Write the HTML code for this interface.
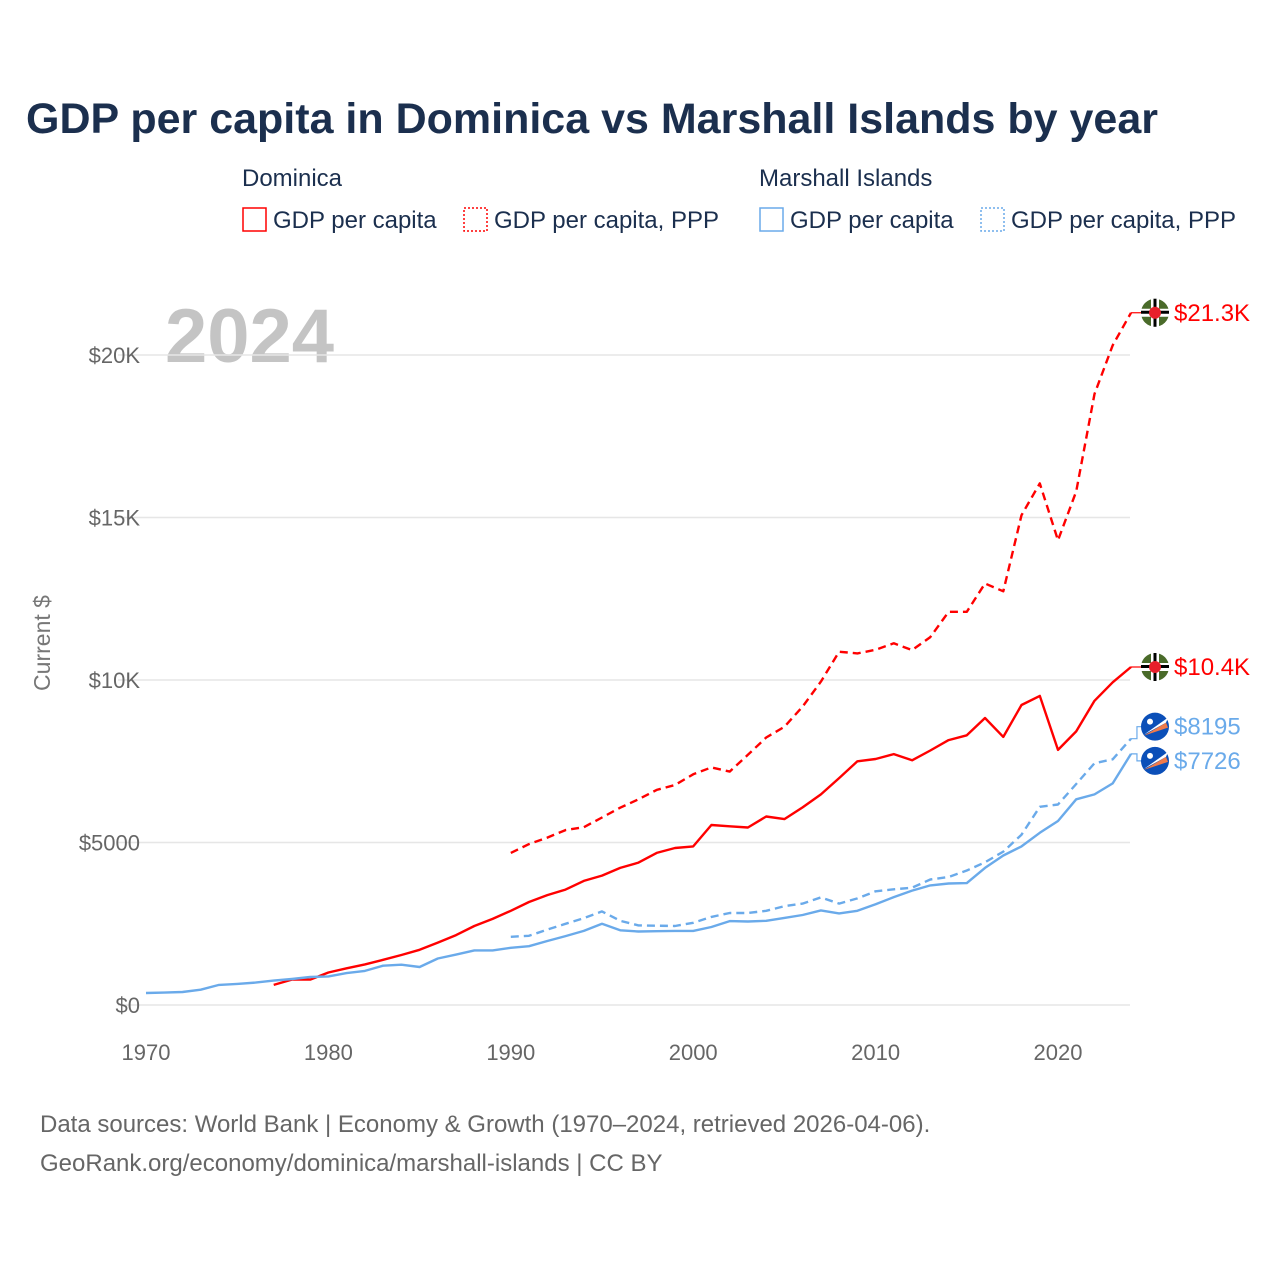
<!DOCTYPE html>
<html><head><meta charset="utf-8"><style>
body{margin:0;background:#fff;font-family:"Liberation Sans",sans-serif;}
svg text{font-family:"Liberation Sans",sans-serif;}
</style></head><body>
<svg id="c" width="1280" height="1280" viewBox="0 0 1280 1280">
<text x="26" y="133" font-size="43" font-weight="bold" fill="#1b2f4e">GDP per capita in Dominica vs Marshall Islands by year</text>
<g>
<text x="242" y="186" font-size="24" fill="#1b2f4e">Dominica</text>
<rect x="243" y="208" width="23" height="23" fill="none" stroke="#ff0000" stroke-width="1.5"/>
<text x="273" y="228" font-size="24" fill="#1b2f4e">GDP per capita</text>
<rect x="464" y="208" width="23" height="23" fill="none" stroke="#ff0000" stroke-width="1.5" stroke-dasharray="2,2"/>
<text x="494" y="228" font-size="24" fill="#1b2f4e">GDP per capita, PPP</text>
<text x="759" y="186" font-size="24" fill="#1b2f4e">Marshall Islands</text>
<rect x="760" y="208" width="23" height="23" fill="none" stroke="#6aaaea" stroke-width="1.5"/>
<text x="790" y="228" font-size="24" fill="#1b2f4e">GDP per capita</text>
<rect x="981" y="208" width="23" height="23" fill="none" stroke="#6aaaea" stroke-width="1.5" stroke-dasharray="2,2"/>
<text x="1011" y="228" font-size="24" fill="#1b2f4e">GDP per capita, PPP</text>
</g>
<text x="165" y="362" font-size="76" font-weight="bold" fill="#c4c4c4">2024</text>
<text transform="translate(50,643) rotate(-90)" text-anchor="middle" font-size="23" fill="#777">Current $</text>
<g id="grid"></g><g id="lines"></g><g id="labels"></g>
<text x="40" y="1132" font-size="24" fill="#666">Data sources: World Bank | Economy &amp; Growth (1970–2024, retrieved 2026-04-06).</text>
<text x="40" y="1171" font-size="24" fill="#666">GeoRank.org/economy/dominica/marshall-islands | CC BY</text>
</svg>
<script>
const yTicks=[0,5000,10000,15000,20000];
const yTickLabels=["$0","$5000","$10K","$15K","$20K"];
const xTicks=[1970,1980,1990,2000,2010,2020];
const domGdpStart=1977;
const domGdp=[620,780,780,1000,1130,1250,1390,1540,1700,1920,2150,2430,2650,2900,3170,3380,3550,3820,3980,4220,4380,4680,4830,4880,5540,5500,5460,5800,5720,6080,6480,6980,7500,7570,7720,7530,7830,8150,8300,8830,8250,9230,9510,7850,8420,9360,9930,10400];
const domPppStart=1990;
const domPpp=[4680,4950,5150,5380,5470,5770,6070,6330,6620,6770,7100,7310,7180,7700,8230,8560,9180,9950,10870,10820,10930,11130,10920,11320,12100,12100,12970,12730,15070,16050,14300,15800,18800,20300,21300];
const mhlGdpStart=1970;
const mhlGdp=[370,380,400,470,620,650,690,750,800,860,880,980,1050,1210,1240,1170,1430,1550,1680,1680,1760,1810,1970,2120,2280,2500,2300,2260,2270,2280,2280,2400,2580,2570,2590,2680,2770,2910,2820,2900,3100,3320,3520,3680,3740,3750,4220,4600,4880,5300,5660,6330,6480,6820,7726];
const mhlPppStart=1990;
const mhlPpp=[2100,2130,2320,2500,2670,2880,2590,2450,2440,2430,2530,2710,2830,2830,2900,3040,3120,3310,3120,3280,3500,3560,3610,3860,3940,4140,4390,4720,5240,6100,6170,6800,7440,7560,8195];
const endLabels=["$21.3K","$10.4K","$8195","$7726"];

const NS="http://www.w3.org/2000/svg";
const X=yr=>146+(yr-1970)*(1058-146)/50;
const Y=v=>1005-v*650/20000;
function mk(t,a,p){const e=document.createElementNS(NS,t);for(const k in a)e.setAttribute(k,a[k]);p.appendChild(e);return e;}
const grid=document.getElementById('grid'),lines=document.getElementById('lines'),labels=document.getElementById('labels');
yTicks.forEach((v,i)=>{
 const l=mk('line',{x1:118,x2:1130,y1:Y(v),y2:Y(v),stroke:'#e6e6e6','stroke-width':1.5},grid);
 
 
 const t=mk('text',{x:140,y:Y(v)+8,'text-anchor':'end','font-size':22,fill:'#666'},grid);
 t.textContent=yTickLabels[i];
 
 
});
xTicks.forEach(yr=>{
 const t=mk('text',{x:X(yr),y:1060,'text-anchor':'middle','font-size':22,fill:'#666'},grid);
 t.textContent=yr;
 
 
});
function series(start,vals,color,dash,name){
 const pts=vals.map((v,i)=>X(start+i).toFixed(1)+','+Y(v).toFixed(1)).join(' ');
 const p=mk('polyline',{points:pts,fill:'none',stroke:color,'stroke-width':2.4,'stroke-linejoin':'round'},lines);
 if(dash)p.setAttribute('stroke-dasharray','8,5');
 
 
}
series(domPppStart,domPpp,'#ff0000',true,'line-dominica-ppp');
series(domGdpStart,domGdp,'#ff0000',false,'line-dominica-gdp');
series(mhlPppStart,mhlPpp,'#6aaaea',true,'line-marshall-ppp');
series(mhlGdpStart,mhlGdp,'#6aaaea',false,'line-marshall-gdp');
const ends=[[domPpp,'#ff0000','dm',0],[domGdp,'#ff0000','dm',0],[mhlPpp,'#6aaaea','mh',-12],[mhlGdp,'#6aaaea','mh',7]];
ends.forEach((e,i)=>{
 const v=e[0][e[0].length-1];const y=Y(v);const ly=y+e[3];
 const c=mk('polyline',{points:`${X(2024)},${y} ${X(2024)+6},${y} ${X(2024)+6},${ly} 1142,${ly}`,fill:'none',stroke:e[1],'stroke-width':1.2},labels);
 
 
 const g=mk('g',{},labels);
 
 
 if(e[2]==='dm'){
  mk('circle',{cx:1155,cy:ly,r:14,fill:'#4a6b2a'},g);
  mk('rect',{x:1141,y:ly-4,width:28,height:8,fill:'#fff'},g);
  mk('rect',{x:1141,y:ly-2,width:28,height:3,fill:'#000'},g);
  mk('rect',{x:1151,y:ly-14,width:8,height:28,fill:'#fff'},g);
  mk('rect',{x:1153.5,y:ly-14,width:3,height:28,fill:'#000'},g);
  mk('circle',{cx:1155,cy:ly,r:6,fill:'#e8202a'},g);
 }else{
  mk('circle',{cx:1155,cy:ly,r:14,fill:'#0b4fb8'},g);
  mk('polygon',{points:`${1144},${ly+8} ${1168},${ly-9} ${1166},${ly-4}`,fill:'#fff'},g);
  mk('polygon',{points:`${1144},${ly+9} ${1166},${ly-4} ${1168},${ly+1}`,fill:'#f07a4a'},g);
  mk('circle',{cx:1150,cy:ly-5,r:3,fill:'#fff'},g);
 }
 const t=mk('text',{x:1174,y:ly+8,'font-size':24,fill:e[1]},labels);
 t.textContent=endLabels[i];
 
 
});
</script>
</body></html>
